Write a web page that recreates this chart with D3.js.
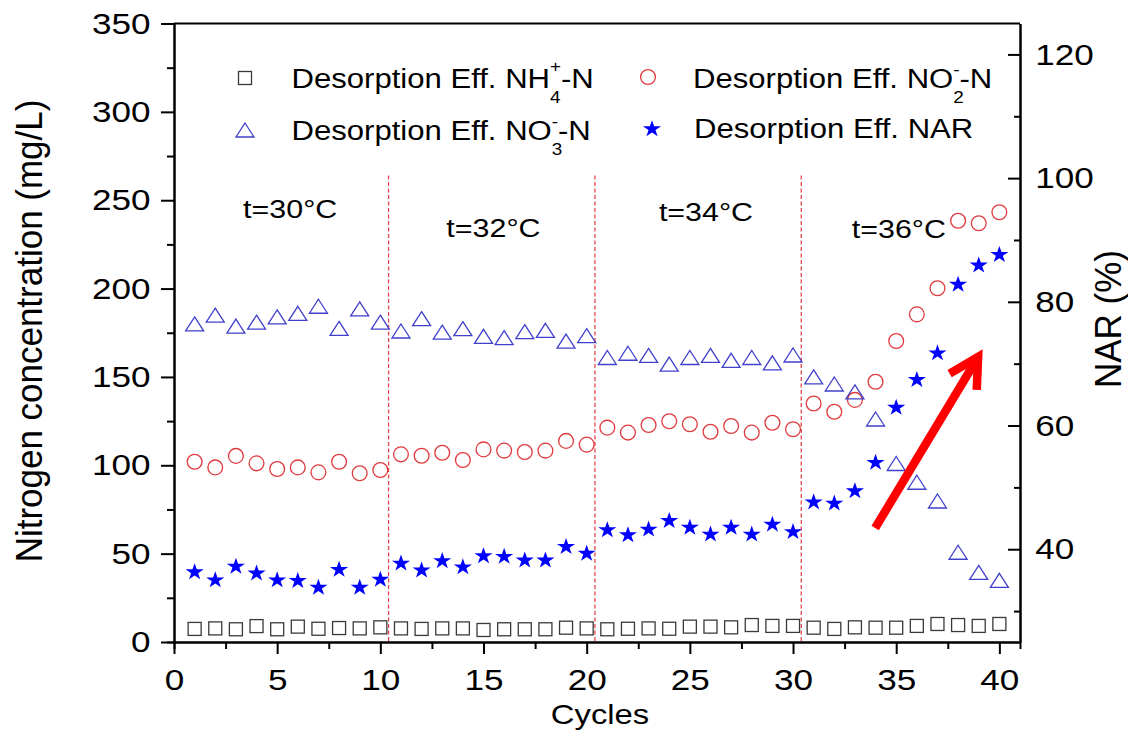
<!DOCTYPE html>
<html>
<head>
<meta charset="utf-8">
<script src="https://cdn.jsdelivr.net/npm/d3@7"></script>
<style>
  body { margin: 0; background: #fff; }
  text { font-family: Arial, "Liberation Sans", sans-serif; fill: #000; }
</style>
</head>
<body>
<script>
const cycles = [1,2,3,4,5,6,7,8,9,10,11,12,13,14,15,16,17,18,19,20,21,22,23,24,25,26,27,28,29,30,31,32,33,34,35,36,37,38,39,40];
const nh4 = [7.4,7.7,7.2,9.0,7.2,8.7,7.5,7.9,7.7,8.3, 7.7,7.4,7.7,7.7,6.8,7.2,7.2,7.2,8.1,7.7,
             7.2,7.5,7.7,7.5,8.7,8.7,8.3,9.6,9.1,9.1, 8.1,7.4,8.3,8.1,8.1,9.1,10.2,9.6,9.1,10.2];
const no2 = [102,98.8,105.3,101.1,97.9,98.8,96,102,95.5,97.3, 106.2,105.4,107.1,103,109,108.3,107.5,108.3,113.8,111.7,
             121.3,118.5,122.8,124.9,123.2,119,122.2,118.5,124.1,120.4, 135,130.3,137,147.3,170.3,185.4,200.2,238.4,237,243.2];
const no3 = [180,185,178.8,181,184,186,190,177.5,188.5,181, 176,183,175.3,177.3,173,172.2,175.6,176.4,170.3,173.4,
             161,163.4,162.2,157.3,161,162.2,159.4,161,158,162.4, 150,146,141.5,126.2,101,90.4,79.8,50.8,39.4,34.9];
const nar = [36.3,35.0,37.2,36.1,35.0,34.9,33.8,36.7,33.8,35.1, 37.7,36.6,38.1,37.1,38.9,38.8,38.2,38.2,40.4,39.3,
             43.1,42.3,43.2,44.6,43.5,42.4,43.5,42.4,44.0,42.8, 47.6,47.4,49.4,54.0,62.9,67.4,71.7,82.8,85.9,87.6];
const tempLabels = ["t=30°C", "t=32°C", "t=34°C", "t=36°C"];
const dividers = [10.4, 20.4, 30.4];
const xTicks = [0,5,10,15,20,25,30,35,40];
const xMinor = [2.5,7.5,12.5,17.5,22.5,27.5,32.5,37.5];
const leftTicks = [0,50,100,150,200,250,300,350];
const leftMinor = [25,75,125,175,225,275,325];
const rightTicks = [40,60,80,100,120];
const rightMinor = [30,50,70,90,110];

const w = 1128, h = 731, SX = 1.17;
const svg = d3.select("body").append("svg").attr("width", w).attr("height", h);

const x = d3.scaleLinear().domain([0, 41]).range([174, 1020]);
const yL = d3.scaleLinear().domain([0, 350]).range([642, 23.5]);
const yR = d3.scaleLinear().domain([25, 125]).range([642, 23.5]);

const label = function(g, px, py, str, size, anchor, sx){
    return g.append("text")
        .attr("transform", `translate(${px},${py}) scale(${sx || SX},1)`)
        .attr("font-size", size)
        .attr("text-anchor", anchor || "start")
        .text(str);
}

const styleAxis = function(g){
    g.selectAll(".domain").attr("stroke", "#000").attr("stroke-width", 2);
    g.selectAll(".tick line").attr("stroke", "#000").attr("stroke-width", 2);
    g.selectAll(".tick text").attr("font-size", 30).attr("font-family", "Arial, 'Liberation Sans', sans-serif")
        .attr("fill", "#000").attr("transform", `scale(${SX},1)`);
}

// minor ticks first, majors on top
svg.append("g").attr("transform", "translate(0,642)")
   .call(d3.axisBottom(x).tickValues(xMinor).tickSize(7).tickFormat("")).call(styleAxis);
svg.append("g").attr("transform", "translate(174,0)")
   .call(d3.axisLeft(yL).tickValues(leftMinor).tickSize(7).tickFormat("")).call(styleAxis);
svg.append("g").attr("transform", "translate(1020,0)")
   .call(d3.axisRight(yR).tickValues(rightMinor).tickSizeInner(-6).tickSizeOuter(0).tickFormat("")).call(styleAxis);

svg.append("g").attr("transform", "translate(0,642)")
   .call(d3.axisBottom(x).tickValues(xTicks).tickSize(12).tickSizeOuter(0).tickPadding(15)).call(styleAxis);
svg.append("g").attr("transform", "translate(174,0)")
   .call(d3.axisLeft(yL).tickValues(leftTicks).tickSize(13).tickSizeOuter(0).tickPadding(7)).call(styleAxis);
svg.append("g").attr("transform", "translate(1020,0)")
   .call(d3.axisRight(yR).tickValues(rightTicks).tickSizeInner(-12).tickSizeOuter(0).tickPadding(13)).call(styleAxis);

svg.append("line")
   .attr("x1", x(0)).attr("x2", x(41)).attr("y1", yL(350)).attr("y2", yL(350))
   .attr("stroke", "#000").attr("stroke-width", 2);

// temperature dividers
svg.append("g").selectAll("line").data(dividers).join("line")
   .attr("x1", d => x(d)).attr("x2", d => x(d))
   .attr("y1", yL(264)).attr("y2", yL(0))
   .attr("stroke", "#e4464e").attr("stroke-width", 1.3).attr("stroke-dasharray", "4,2.5");

const tempAt = [[3.35, 240], [13.2, 229], [23.5, 238], [32.85, 228.6]];
tempLabels.forEach((t, i) => label(svg, x(tempAt[i][0]), yL(tempAt[i][1]), t, 26));

// series
const triPath = "M0,-7L9,7L-9,7Z";
const starPath = d3.symbol(d3.symbolStar, 88)();

svg.append("g").selectAll("rect").data(cycles).join("rect")
   .attr("x", d => x(d) - 6.5).attr("y", (d, i) => yL(nh4[i]) - 6.5)
   .attr("width", 13).attr("height", 13)
   .attr("fill", "none").attr("stroke", "#3a3a3a").attr("stroke-width", 1.3);

svg.append("g").selectAll("circle").data(cycles).join("circle")
   .attr("cx", d => x(d)).attr("cy", (d, i) => yL(no2[i])).attr("r", 7.4)
   .attr("fill", "none").attr("stroke", "#e03a3e").attr("stroke-width", 1.3);

svg.append("g").selectAll("path").data(cycles).join("path")
   .attr("d", triPath)
   .attr("transform", (d, i) => `translate(${x(d)},${yL(no3[i])})`)
   .attr("fill", "none").attr("stroke", "#4040cc").attr("stroke-width", 1.3);

svg.append("g").selectAll("path").data(cycles).join("path")
   .attr("d", starPath)
   .attr("transform", (d, i) => `translate(${x(d)},${yR(nar[i])}) scale(1.08,1)`)
   .attr("fill", "#0000ff");

// legend
const legend = svg.append("g").attr("id", "legend");
legend.append("rect").attr("x", 238.5).attr("y", 71.5).attr("width", 13).attr("height", 13)
   .attr("fill", "none").attr("stroke", "#3a3a3a").attr("stroke-width", 1.3);
legend.append("path").attr("d", triPath).attr("transform", "translate(245,130)")
   .attr("fill", "none").attr("stroke", "#4040cc").attr("stroke-width", 1.3);
legend.append("circle").attr("cx", 648).attr("cy", 77).attr("r", 7.4)
   .attr("fill", "none").attr("stroke", "#e03a3e").attr("stroke-width", 1.3);
legend.append("path").attr("d", starPath).attr("transform", "translate(652,129) scale(1.08,1)")
   .attr("fill", "#0000ff");

const LSX = 1.11;
const legendText = function(px, py, main, sub, sup, tail, supDy){
    const t = label(legend, px, py, main, 28, "start", LSX);
    if (sub) {
        t.append("tspan").attr("font-size", 17).attr("dy", 15).text(sub);
        t.append("tspan").attr("font-size", 17).attr("dx", -9.5).attr("dy", supDy).text(sup);
        t.append("tspan").attr("dy", -15 - supDy).text(tail);
    }
    return t;
}
legendText(291.5, 88, "Desorption Eff. NH", "4", "+", "-N", -31);
legendText(291.5, 140, "Desorption Eff. NO", "3", "-", "-N", -28);
legendText(693, 88, "Desorption Eff. NO", "2", "-", "-N", -28);
legendText(694, 138, "Desorption Eff. NAR");

// axis titles
svg.append("text")
   .attr("transform", "translate(42,331) rotate(-90) scale(1,1.08)")
   .attr("font-size", 35).attr("text-anchor", "middle")
   .text("Nitrogen concentration (mg/L)");
svg.append("text")
   .attr("transform", "translate(1121,319) rotate(-90) scale(1,1.08)")
   .attr("font-size", 35).attr("text-anchor", "middle")
   .text("NAR (%)");
label(svg, 600, 724, "Cycles", 28, "middle");

// trend arrow
const p0 = [x(33.98), yL(64.5)], p1 = [x(38.97), yL(161.3)];
const ang = Math.atan2(p0[1] - p1[1], p0[0] - p1[0]);
const arm = a => [p1[0] + 33 * Math.cos(ang + a), p1[1] + 33 * Math.sin(ang + a)];
svg.append("line")
   .attr("x1", p0[0]).attr("y1", p0[1]).attr("x2", p1[0]).attr("y2", p1[1])
   .attr("stroke", "#ff0000").attr("stroke-width", 8.5);
svg.append("path")
   .attr("d", d3.line()([arm(0.5), p1, arm(-0.5)]))
   .attr("fill", "none").attr("stroke", "#ff0000").attr("stroke-width", 8.5)
   .attr("stroke-linejoin", "miter");
</script>
</body>
</html>
